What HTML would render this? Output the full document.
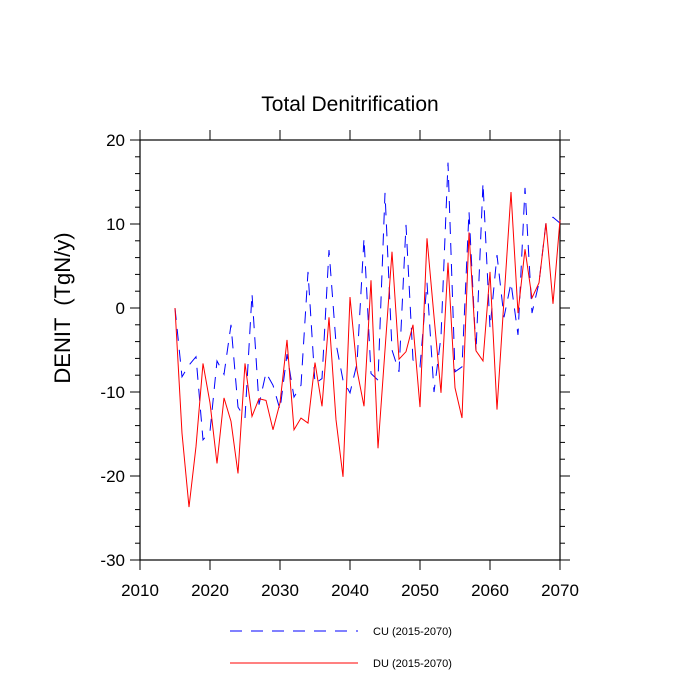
<!DOCTYPE html>
<html><head><meta charset="utf-8"><style>body{margin:0;background:#fff}svg{display:block;font-family:"Liberation Sans",sans-serif}</style></head>
<body>
<svg id="chart" width="700" height="700" viewBox="0 0 700 700">
<text x="350" y="111" font-size="21" text-anchor="middle">Total Denitrification</text>
<text transform="translate(70,308) rotate(-90)" font-size="22" text-anchor="middle" style="white-space:pre">DENIT  (TgN/y)</text>
<g id="axes"></g>
<g id="series"></g>
<g>
<line x1="230" y1="631" x2="358" y2="631" stroke="#00f" stroke-dasharray="12,9" stroke-width="1"/>
<text x="373" y="635" font-size="11">CU (2015-2070)</text>
<line x1="230" y1="663" x2="358" y2="663" stroke="#f00" stroke-width="1"/>
<text x="373" y="667" font-size="11">DU (2015-2070)</text>
</g>
</svg>
<script>
const years = [];for(let y=2015;y<=2070;y++)years.push(y);
const cuValues = [0,-8.2,-6.8,-5.8,-15.7,-14.7,-6.3,-7.9,-2,-11.8,-13.1,1.7,-11.5,-7.7,-9.2,-12.1,-5.5,-10.6,-9.2,4.3,-9,-8.4,6.9,-4.2,-8.6,-10.1,-6.6,8.3,-7.8,-8.6,13.7,-5,-7.6,9.9,-6.2,-7,3,-10,-3.4,17.3,-7.6,-7,11.5,-5.2,14.9,-2.4,6.3,-1.1,3,-3.2,14.3,-0.6,3,10.2,10.8,10.1];
const duValues = [0,-14.9,-23.7,-16.5,-6.6,-11.3,-18.5,-10.7,-13.5,-19.7,-6.6,-12.9,-10.8,-11,-14.5,-11.3,-3.8,-14.5,-13.1,-13.7,-6.5,-11.7,-1.1,-13.3,-20.1,1.3,-7.4,-11.7,3.3,-16.7,-5,6.7,-6.1,-5.2,-2,-11.8,8.3,-1,-10.1,5.4,-9.5,-13.1,9,-5.1,-6.3,4.3,-12.1,1,13.8,-0.6,7,1.2,3,10.1,0.5,10.5];
const xTicks = [2010,2020,2030,2040,2050,2060,2070];
const yTicks = [20,10,0,-10,-20,-30];
const X0=140,X1=560,Y0=140,Y1=560;
const sx=v=>X0+(v-2010)/60*(X1-X0);
const sy=v=>Y0+(20-v)/50*(Y1-Y0);
const NS='http://www.w3.org/2000/svg';
function mk(tag,attrs,parent){const e=document.createElementNS(NS,tag);for(const k in attrs)e.setAttribute(k,attrs[k]);parent.appendChild(e);return e;}
const axes=document.getElementById('axes');
const frame=mk('rect',{x:X0,y:Y0,width:X1-X0,height:Y1-Y0,fill:'none',stroke:'#000','stroke-width':1.2},axes);


xTicks.forEach(v=>{const x=sx(v);
 mk('line',{x1:x,y1:Y1,x2:x,y2:Y1+10,stroke:'#000'},axes);
 mk('line',{x1:x,y1:Y0,x2:x,y2:Y0-10,stroke:'#000'},axes);});
for(let v=-30;v<=20;v+=2){const major=(v%10===0);const L=major?10:5;const y=sy(v);
 mk('line',{x1:X0,y1:y,x2:X0-L,y2:y,stroke:'#000'},axes);
 mk('line',{x1:X1,y1:y,x2:X1+L,y2:y,stroke:'#000'},axes);}
xTicks.forEach(v=>{const t=mk('text',{x:sx(v),y:Y1+36,'font-size':17,'text-anchor':'middle'},axes);t.textContent=v;
 
 });
yTicks.forEach(v=>{const t=mk('text',{x:X0-15,y:sy(v)+6,'font-size':17,'text-anchor':'end'},axes);t.textContent=v;
 
 });
const series=document.getElementById('series');
const cu=mk('polyline',{points:years.map((y,i)=>sx(y)+','+sy(cuValues[i])).join(' '),fill:'none',stroke:'#00f','stroke-width':1,'stroke-dasharray':'12,9'},series);


const du=mk('polyline',{points:years.map((y,i)=>sx(y)+','+sy(duValues[i])).join(' '),fill:'none',stroke:'#f00','stroke-width':1},series);


</script>
</body></html>
